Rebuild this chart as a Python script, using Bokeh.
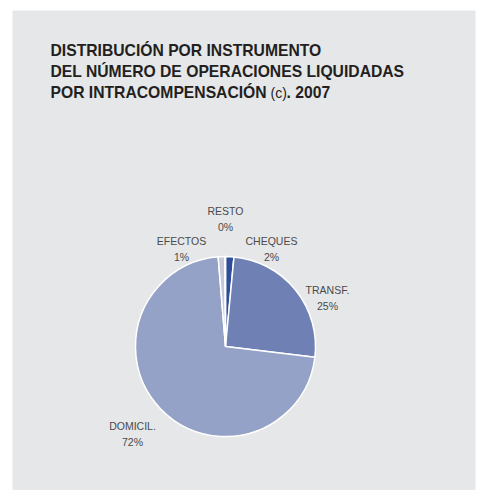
import math
from bokeh.plotting import figure
from bokeh.models import Range1d, ColumnDataSource
from bokeh.core.properties import value
from bokeh.embed import file_html
from bokeh.resources import INLINE

# ---- data ----
categories = ["CHEQUES", "TRANSF.", "DOMICIL.", "EFECTOS", "RESTO"]
shares = [1.5, 25.4, 71.8, 1.2, 0.1]
colors = ["#2e4e98", "#6f81b4", "#95a2c7", "#c4c9da", "#dfe2ea"]
title_lines = ["DISTRIBUCIÓN POR INSTRUMENTO",
               "DEL NÚMERO DE OPERACIONES LIQUIDADAS",
               "POR INTRACOMPENSACIÓN"]
title_note = "(c)"
title_year = ". 2007"

# ---- layout (page pixel coordinates) ----
W, H = 477, 490
def Y(y_img):
    return H - y_img

BG = "#e6e7e9"
FONT = "Liberation Sans"
cx, cy, R = 225, 346, 90
# label anchor positions (baseline of name line) for each category
label_pos = [(271, 240.5), (327, 289), (132, 425), (181, 240.5), (225, 210.5)]
LINE_GAP = 16

p = figure(width=W, height=H, output_backend="svg", toolbar_location=None,
           x_range=Range1d(0, W), y_range=Range1d(0, H),
           min_border=0, border_fill_color="white", background_fill_color="white",
           outline_line_color=None)
p.axis.visible = False
p.grid.visible = False

# grey panel
p.quad(left=[12], right=[475], top=[Y(10)], bottom=[Y(H)],
       fill_color=BG, line_color=None)

# pie wedges (clockwise from 12 o'clock)
total = sum(shares)
starts, ends = [], []
cum = 0.0
for s in shares:
    a0 = math.pi / 2 - 2 * math.pi * cum / total
    cum += s
    a1 = math.pi / 2 - 2 * math.pi * cum / total
    starts.append(a0)
    ends.append(a1)
src = ColumnDataSource(dict(x=[cx] * len(shares), y=[Y(cy)] * len(shares),
                            start=starts, end=ends, color=colors))
p.wedge(x="x", y="y", radius=R, radius_units="screen", start_angle="start",
        end_angle="end", direction="clock", fill_color="color",
        line_color="white", line_width=1.5, source=src)

# labels
names_x = [lp[0] for lp in label_pos]
names_y = [Y(lp[1]) for lp in label_pos]
pct_y = [Y(lp[1] + LINE_GAP) for lp in label_pos]
pcts = [f"{round(s / total * 100)}%" for s in shares]
lab_kw = dict(text_font=value(FONT), text_font_size="10.5px", text_color="#4a4a4a",
              text_align="center", text_baseline="alphabetic")
p.text(x=names_x, y=names_y, text=categories, **lab_kw)
p.text(x=names_x, y=pct_y, text=pcts, **lab_kw)

# title
ty = [50, 71, 92]
p.text(x=[50] * 3, y=[Y(t) for t in ty], text=title_lines, text_font=value(FONT),
       text_font_size="15.7px", text_font_style="bold", text_color="#231f20",
       text_align="left", text_baseline="alphabetic")
p.text(x=[270], y=[Y(92)], text=[title_note], text_font=value(FONT),
       text_font_size="14px", text_color="#231f20", text_align="left",
       text_baseline="alphabetic")
p.text(x=[286], y=[Y(92)], text=[title_year], text_font=value(FONT),
       text_font_size="15.7px", text_font_style="bold", text_color="#231f20",
       text_align="left", text_baseline="alphabetic")

open("out.html", "w").write(file_html(p, INLINE))
